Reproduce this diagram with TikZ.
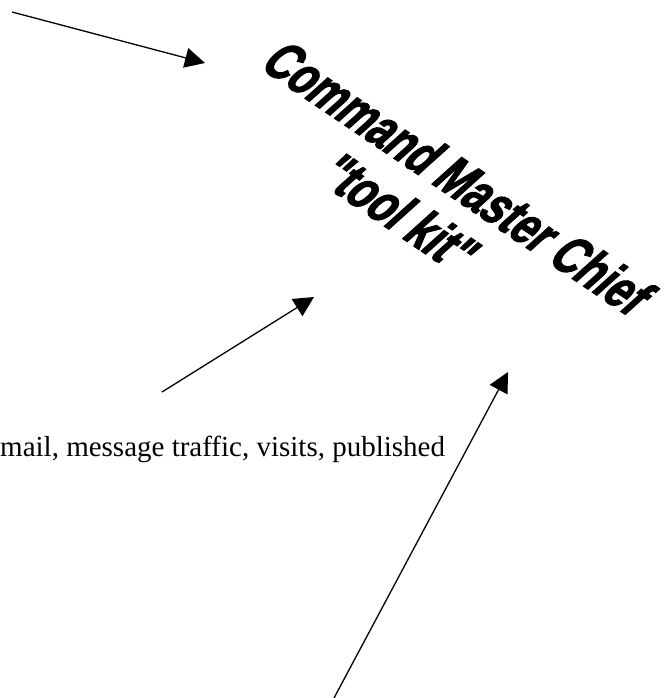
\documentclass[tikz,border=0pt]{standalone}
\usepackage{fontspec}
\setmainfont{Liberation Serif}
\newfontfamily\titlefont[FakeBold=2.5]{Liberation Sans}
\usetikzlibrary{arrows.meta}
\tikzset{
  pointer/.style={line width=1.3pt, -{Triangle[length=20pt,width=20pt]}},
  titletext/.style={font=\titlefont\bfseries\fontsize{40}{40}\selectfont, inner sep=0pt},
  bodytext/.style={font=\fontsize{29}{33}\selectfont, inner sep=0pt, anchor=base west}
}
\begin{document}
\begin{tikzpicture}[x=1pt,y=1pt]
\useasboundingbox (0,0) rectangle (668,-698);
% title (WordArt-like, rotated, slanted, stretched)
\begin{scope}[shift={(459,-178)}, rotate=-34, xslant=0.25, yscale=1.4, transform shape]
  \node[titletext] (title) at (0,0) {Command Master Chief};
  \node[titletext] (kit) at (-14,-44) {"tool kit"};
\end{scope}
% body text
\node[bodytext] (mail) at (0,-456) {mail, message traffic, visits, published};
% arrows
\coordinate (s1) at (12,-12);
\coordinate (t1) at (205,-63);
\coordinate (s2) at (162,-392);
\coordinate (t2) at (314,-297);
\coordinate (s3) at (334,-698);
\coordinate (t3) at (508,-372);
\draw[pointer] (s1) -- (t1);
\draw[pointer] (s2) -- (t2);
\draw[pointer] (s3) -- (t3);
\end{tikzpicture}
\end{document}
